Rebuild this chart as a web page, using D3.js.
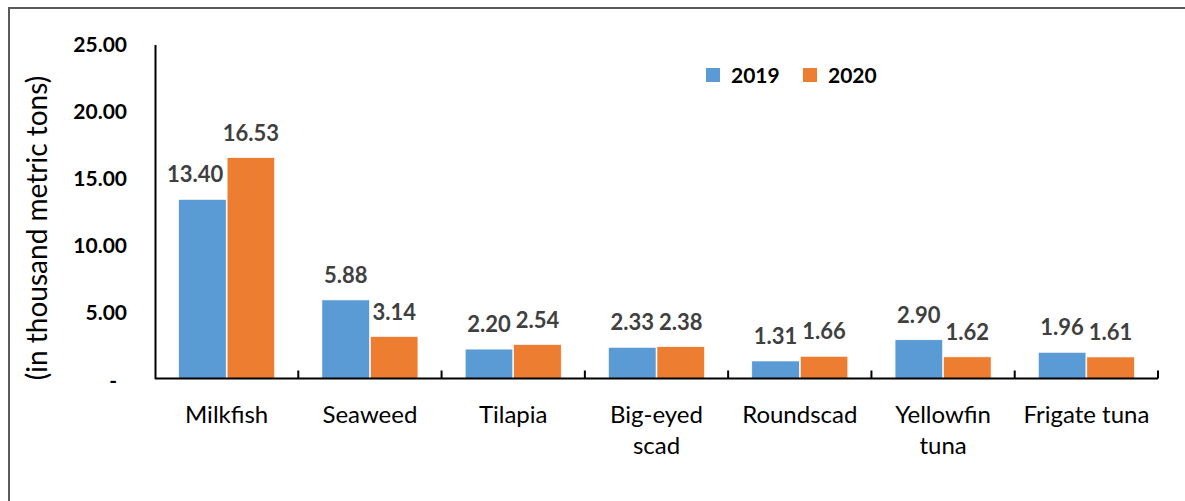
<!DOCTYPE html>
<html>
<head>
<meta charset="utf-8">
<script src="https://cdn.jsdelivr.net/npm/d3@7"></script>
<style>
html,body{margin:0;padding:0;background:#fff;}
svg{display:block;}
</style>
</head>
<body>
<svg id="chart" width="1185" height="501"></svg>
<script>
const categories = ["Milkfish", "Seaweed", "Tilapia", "Big-eyed scad", "Roundscad", "Yellowfin tuna", "Frigate tuna"];
const categoryLines = [["Milkfish"], ["Seaweed"], ["Tilapia"], ["Big-eyed", "scad"], ["Roundscad"], ["Yellowfin", "tuna"], ["Frigate tuna"]];
const seriesNames = ["2019", "2020"];
const values2019 = [13.40, 5.88, 2.20, 2.33, 1.31, 2.90, 1.96];
const values2020 = [16.53, 3.14, 2.54, 2.38, 1.66, 1.62, 1.61];
const yTicks = [0, 5, 10, 15, 20, 25];
const colors = ["#5B9BD5", "#ED7D31"];

const seriesValues = [values2019, values2020];
const svg = d3.select("#chart");
const FONT = "Lato, 'Open Sans', sans-serif";

// outer frame (cropped on right and bottom)
svg.append("path")
  .attr("d", "M9,501 V8 H1185")
  .attr("fill", "none").attr("stroke", "#5a5a5a").attr("stroke-width", 2);

const x0 = 155, x1 = 1158, yTop = 44.5, yBot = 378.5;
const x = d3.scaleBand().domain(categories).range([x0, x1]).padding(0);
const y = d3.scaleLinear().domain([0, 25]).range([yBot, yTop]);
const bw = x.bandwidth();
const groupW = bw * 0.67;
const xs = d3.scaleBand().domain(seriesNames).range([(bw - groupW) / 2, (bw + groupW) / 2]).paddingInner(0.02);

// bars
const g = svg.append("g");
categories.forEach((c, i) => {
  seriesNames.forEach((s, j) => {
    const v = seriesValues[j][i];
    g.append("rect")
      .attr("x", x(c) + xs(s))
      .attr("y", y(v))
      .attr("width", xs.bandwidth())
      .attr("height", y(0) - y(v))
      .attr("fill", colors[j])
      .attr("stroke", "#ffffff").attr("stroke-width", 0.6);
    const t = g.append("text")
      .attr("x", x(c) + xs(s) + xs.bandwidth() / 2)
      .attr("y", y(v) - 17)
      .attr("text-anchor", "middle")
      .attr("font-family", FONT).attr("font-weight", "bold")
      .attr("font-size", 22).attr("fill", "#404040")
      .text(v.toFixed(2));
    // keep the first-series label clear of a taller neighbouring bar
    if (j === 0) {
      const other = seriesValues[1][i];
      const w = t.node().getComputedTextLength();
      const barRight = x(c) + xs(s) + xs.bandwidth();
      const cx = x(c) + xs(s) + xs.bandwidth() / 2;
      if (y(other) < y(v) - 17 && cx + w / 2 > barRight - 3) {
        t.attr("x", barRight - 3 - w / 2);
      }
    }
  });
});

// y axis
const yAxis = d3.axisLeft(y).tickValues(yTicks).tickSize(0).tickPadding(28)
  .tickFormat(d => d === 0 ? "-" : d3.format(".2f")(d));
const ya = svg.append("g").attr("transform", `translate(${x0},0)`).call(yAxis);
ya.select(".domain").attr("stroke", "#000").attr("stroke-width", 2);
ya.selectAll("text").attr("font-family", FONT).attr("font-weight", "bold")
  .attr("font-size", 21).attr("fill", "#000").attr("dy", "0.35em");
ya.selectAll(".tick").filter(d => d === 0).select("text").attr("x", -38).attr("dy", "0.45em");

// x axis
const xa = svg.append("g").attr("transform", `translate(0,${yBot})`);
xa.append("line").attr("x1", x0).attr("x2", x1).attr("y1", 0).attr("y2", 0)
  .attr("stroke", "#000").attr("stroke-width", 2);
categories.forEach((c, i) => {
  const bx = x(c) + bw;
  xa.append("line").attr("x1", bx).attr("x2", bx).attr("y1", 0).attr("y2", -8)
    .attr("stroke", "#000").attr("stroke-width", 2);
  const t = xa.append("text")
    .attr("text-anchor", "middle")
    .attr("font-family", FONT).attr("font-size", 24).attr("fill", "#000");
  categoryLines[i].forEach((ln, k) => {
    t.append("tspan").attr("x", x(c) + bw / 2).attr("y", 44 + k * 31).text(ln);
  });
});

// y axis title
svg.append("text")
  .attr("transform", "translate(47,228) rotate(-90)")
  .attr("text-anchor", "middle")
  .attr("font-family", FONT).attr("font-size", 28).attr("fill", "#000")
  .text("(in thousand metric tons)");

// legend
const legX = [706, 803];
seriesNames.forEach((s, j) => {
  svg.append("rect").attr("x", legX[j]).attr("y", 68).attr("width", 14).attr("height", 14)
    .attr("fill", colors[j]);
  svg.append("text").attr("x", legX[j] + 25).attr("y", 82.5)
    .attr("font-family", FONT).attr("font-weight", "bold").attr("font-size", 21)
    .attr("fill", "#000").text(s);
});
</script>
</body>
</html>
